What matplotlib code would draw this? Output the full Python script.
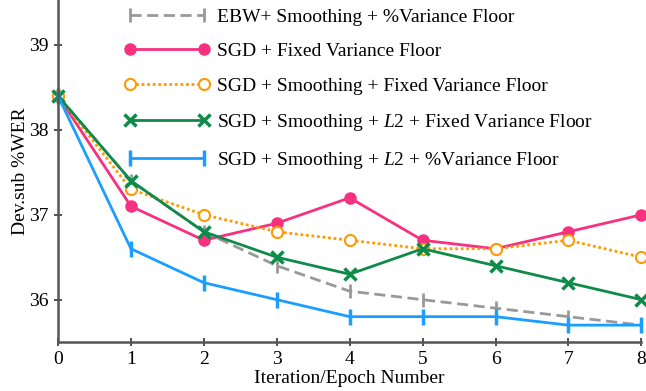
import matplotlib
matplotlib.use("Agg")
import matplotlib.pyplot as plt

plt.rcParams['font.family'] = ['Liberation Serif', 'DejaVu Serif']
plt.rcParams['mathtext.fontset'] = 'custom'
plt.rcParams['mathtext.it'] = 'Liberation Serif:italic'
plt.rcParams['mathtext.rm'] = 'Liberation Serif'

# данные
iters = [0, 1, 2, 3, 4, 5, 6, 7, 8]
ebw = [38.4, 37.4, 36.8, 36.4, 36.1, 36.0, 35.9, 35.8, 35.7]
sgd_fixed = [38.4, 37.1, 36.7, 36.9, 37.2, 36.7, 36.6, 36.8, 37.0]
sgd_smooth = [38.4, 37.3, 37.0, 36.8, 36.7, 36.6, 36.6, 36.7, 36.5]
sgd_l2_fixed = [38.4, 37.4, 36.8, 36.5, 36.3, 36.6, 36.4, 36.2, 36.0]
sgd_l2_pct = [38.4, 36.6, 36.2, 36.0, 35.8, 35.8, 35.8, 35.7, 35.7]

labels = [
    'EBW+ Smoothing + %Variance Floor',
    'SGD + Fixed Variance Floor',
    'SGD + Smoothing + Fixed Variance Floor',
    'SGD + Smoothing + $L2$ + Fixed Variance Floor',
    'SGD + Smoothing + $L2$ + %Variance Floor',
]

fig = plt.figure(figsize=(6.46, 3.91), dpi=100)
ax = fig.add_axes([0.0898, 0.125, 0.903, 0.875])

ax.plot(iters, ebw, color='#999999', ls=(0, (4, 2)), lw=2, marker='|', ms=10, mew=2,
        label=labels[0], clip_on=False)
ax.plot(iters, sgd_fixed, color='#f7307f', lw=2, marker='o', ms=8,
        label=labels[1], clip_on=False)
ax.plot(iters, sgd_smooth, color='#ff9a00', lw=2, ls=(0, (1, 1)), marker='o', ms=8,
        mfc='white', mew=1.5, label=labels[2], clip_on=False)
ax.plot(iters, sgd_l2_fixed, color='#0e8a4a', lw=2, marker='x', ms=9, mew=2.5,
        label=labels[3], clip_on=False)
ax.plot(iters, sgd_l2_pct, color='#1a9fff', lw=2, marker='|', ms=12, mew=2.5,
        label=labels[4], clip_on=False)

ax.set_xlim(0, 8)
ax.set_ylim(35.5, 39.53)
ax.set_xticks(iters)
ax.set_yticks([36, 37, 38, 39])
ax.tick_params(direction='inout', length=6, width=1.2, color='#333333', labelsize=14)
for s in ['top', 'right']:
    ax.spines[s].set_visible(False)
for s in ['left', 'bottom']:
    ax.spines[s].set_color('#555555')
    ax.spines[s].set_linewidth(1.8)

ax.set_xlabel('Iteration/Epoch Number', fontsize=14, labelpad=1)
ax.set_ylabel('Dev.sub %WER', fontsize=14, labelpad=0)

ax.legend(loc='upper left', bbox_to_anchor=(0.083, 1.028), frameon=False, fontsize=14,
          handlelength=4.4, numpoints=2, labelspacing=0.88, handletextpad=0.4)

fig.savefig('out.png', dpi=100)
